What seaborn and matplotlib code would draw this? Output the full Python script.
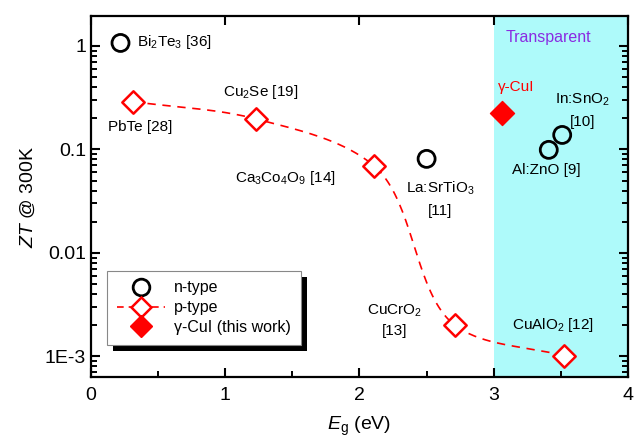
import numpy as np
import pandas as pd
import seaborn as sns
import matplotlib.pyplot as plt
from matplotlib.lines import Line2D
from matplotlib.patches import Rectangle
from matplotlib.ticker import LogLocator, NullFormatter, FixedLocator

# n-type materials
n_names = ["Bi2Te3", "La:SrTiO3", "Al:ZnO", "In:SnO2"]
n_eg = [0.22, 2.50, 3.41, 3.51]
n_zt = [1.07, 0.081, 0.099, 0.138]

# p-type materials (joined by dashed guide)
p_names = ["PbTe", "Cu2Se", "Ca3Co4O9", "CuCrO2", "CuAlO2"]
p_eg = [0.31, 1.23, 2.11, 2.71, 3.52]
p_zt = [0.29, 0.197, 0.069, 0.0020, 0.00101]

# this work
cui_eg = [3.06]
cui_zt = [0.225]

ytick_vals = [1e-3, 1e-2, 1e-1, 1]
ytick_labels = ["1E-3", "0.01", "0.1", "1"]

sns.set_style("ticks")
plt.rcParams["font.family"] = ["Liberation Sans", "DejaVu Sans"]
plt.rcParams["mathtext.fontset"] = "custom"
plt.rcParams["mathtext.rm"] = "Liberation Sans"
plt.rcParams["mathtext.it"] = "Liberation Sans:italic"
plt.rcParams["axes.edgecolor"] = "black"
plt.rcParams["text.color"] = "black"
plt.rcParams["axes.labelcolor"] = "black"
plt.rcParams["xtick.color"] = "black"
plt.rcParams["ytick.color"] = "black"
plt.rcParams["xtick.direction"] = "in"
plt.rcParams["ytick.direction"] = "in"


def catmull_rom(xs, ys, n=40):
    """smooth guide line through the points (centripetal catmull-rom)"""
    pts = np.column_stack([xs, ys])
    pts = np.vstack([2 * pts[0] - pts[1], pts, 2 * pts[-1] - pts[-2]])
    out = []
    for i in range(1, len(pts) - 2):
        p0, p1, p2, p3 = pts[i - 1], pts[i], pts[i + 1], pts[i + 2]
        t0 = 0.0
        t1 = t0 + np.linalg.norm(p1 - p0) ** 0.5
        t2 = t1 + np.linalg.norm(p2 - p1) ** 0.5
        t3 = t2 + np.linalg.norm(p3 - p2) ** 0.5
        t = np.linspace(t1, t2, n)[:, None]
        a1 = (t1 - t) / (t1 - t0) * p0 + (t - t0) / (t1 - t0) * p1
        a2 = (t2 - t) / (t2 - t1) * p1 + (t - t1) / (t2 - t1) * p2
        a3 = (t3 - t) / (t3 - t2) * p2 + (t - t2) / (t3 - t2) * p3
        b1 = (t2 - t) / (t2 - t0) * a1 + (t - t0) / (t2 - t0) * a2
        b2 = (t3 - t) / (t3 - t1) * a2 + (t - t1) / (t3 - t1) * a3
        out.append((t2 - t) / (t2 - t1) * b1 + (t - t1) / (t2 - t1) * b2)
    out = np.vstack(out)
    return out[:, 0], out[:, 1]


fig = plt.figure(figsize=(6.34, 4.37), dpi=100)
ax = fig.add_axes([0.1435, 0.1373, 0.847, 0.8261])

# transparent region
ax.axvspan(3, 4, color="#aefafa", zorder=0, lw=0)
ax.text(3.41, 1.22, "Transparent", color="#8a2be2", fontsize=11.5, ha="center", va="center")

# dashed guide for p-type (smoothed in log space)
sx, sy = catmull_rom(np.array(p_eg), np.log10(p_zt))
ax.plot(sx, 10 ** sy, color="red", ls=(0, (5, 4)), lw=1.2, zorder=2)

df_n = pd.DataFrame({"Eg": n_eg, "ZT": n_zt})
df_p = pd.DataFrame({"Eg": p_eg, "ZT": p_zt})
df_c = pd.DataFrame({"Eg": cui_eg, "ZT": cui_zt})

sns.scatterplot(data=df_n, x="Eg", y="ZT", ax=ax, marker="o", s=150,
                facecolor="none", edgecolor="black", linewidth=2, zorder=3)
sns.scatterplot(data=df_p, x="Eg", y="ZT", ax=ax, marker="D", s=130,
                facecolor="white", edgecolor="red", linewidth=1.8, zorder=3)
sns.scatterplot(data=df_c, x="Eg", y="ZT", ax=ax, marker="D", s=150,
                color="red", edgecolor="red", zorder=3)

ax.set_yscale("log")
ax.set_xlim(0, 4)
ax.set_ylim(6.3e-4, 1.95)
ax.xaxis.set_major_locator(FixedLocator([0, 1, 2, 3, 4]))
ax.xaxis.set_minor_locator(FixedLocator([0.5, 1.5, 2.5, 3.5]))
ax.yaxis.set_major_locator(FixedLocator(ytick_vals))
ax.set_yticklabels(ytick_labels)
ax.yaxis.set_minor_locator(LogLocator(base=10, subs=(2, 3, 4, 5, 6, 7, 8, 9), numticks=30))
ax.yaxis.set_minor_formatter(NullFormatter())
ax.tick_params(which="both", top=True, right=True, labelsize=14)
ax.tick_params(which="major", length=6.5, width=1.5)
ax.tick_params(which="minor", length=4.5, width=1.4)
ax.tick_params(axis="x", which="minor", top=False)
ax.tick_params(axis="x", which="major", pad=7)
ax.set_axisbelow(False)
for sp in ax.spines.values():
    sp.set_linewidth(1.6)

ax.set_xlabel(r"$E_{\mathrm{g}}$ (eV)", fontsize=14, labelpad=8)
ax.set_ylabel(r"$ZT$ @ 300K", fontsize=14, labelpad=6)

# labels for each material
fs = 11
ax.text(0.34, 1.09, r"Bi$_2$Te$_3$ [36]", fontsize=fs, ha="left", va="center")
ax.text(1.26, 0.36, r"Cu$_2$Se [19]", fontsize=fs, ha="center", va="center")
ax.text(0.365, 0.165, "PbTe [28]", fontsize=fs, ha="center", va="center")
ax.text(1.445, 0.053, r"Ca$_3$Co$_4$O$_9$ [14]", fontsize=fs, ha="center", va="center")
ax.text(2.6, 0.0425, r"La:SrTiO$_3$", fontsize=fs, ha="center", va="center")
ax.text(2.6, 0.0255, "[11]", fontsize=fs, ha="center", va="center")
ax.text(3.165, 0.40, "γ-CuI", fontsize=fs, color="red", ha="center", va="center")
ax.text(3.66, 0.30, r"In:SnO$_2$", fontsize=fs, ha="center", va="center")
ax.text(3.66, 0.184, "[10]", fontsize=fs, ha="center", va="center")
ax.text(3.39, 0.063, "Al:ZnO [9]", fontsize=fs, ha="center", va="center")
ax.text(2.26, 0.00275, r"CuCrO$_2$", fontsize=fs, ha="center", va="center")
ax.text(2.26, 0.00176, "[13]", fontsize=fs, ha="center", va="center")
ax.text(3.44, 0.00201, r"CuAlO$_2$ [12]", fontsize=fs, ha="center", va="center")

handles = [
    Line2D([], [], marker="o", ls="none", mfc="none", mec="black", mew=2, ms=12),
    Line2D([], [], marker="D", ls=(0, (4, 3)), color="red", mfc="white", mec="red", mew=1.8, ms=10, lw=1.2),
    Line2D([], [], marker="D", ls="none", mfc="red", mec="red", ms=11),
]
leg = ax.legend(handles, ["n-type", "p-type", "γ-CuI (this work)"], loc="lower left",
                bbox_to_anchor=(0.03, 0.09), fontsize=11.5, frameon=True, fancybox=False,
                edgecolor="#888888", framealpha=1, handlelength=3.0, borderpad=0.6,
                labelspacing=0.3, handletextpad=0.6, borderaxespad=0)
leg.get_frame().set_linewidth(0.8)
leg.set_zorder(5)

# black drop shadow behind the legend
fig.canvas.draw()
bb = leg.get_window_extent()
shadow = Rectangle((bb.x0 + 6, bb.y0 - 6), bb.width, bb.height, transform=None,
                   facecolor="black", edgecolor="none", zorder=4)
ax.add_artist(shadow)

fig.savefig("out.png", dpi=100)
